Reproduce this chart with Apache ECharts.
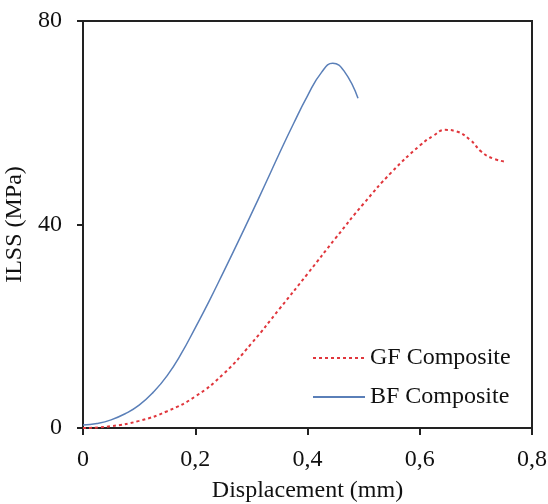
<!DOCTYPE html>
<html>
<head>
<meta charset="utf-8">
<style>html,body{margin:0;padding:0;background:#fff}#c{width:548px;height:504px}</style>
<script src="https://cdn.jsdelivr.net/npm/echarts@6/dist/echarts.min.js"></script>
</head>
<body>
<div id="c"></div>
<script>
var gfX = [0, 0.05, 0.1, 0.15, 0.2, 0.25, 0.3, 0.35, 0.4, 0.45, 0.5, 0.55, 0.6, 0.625, 0.645, 0.665, 0.69, 0.71, 0.73, 0.755];
var gfY = [0, 0.35, 1.4, 3.3, 6.2, 10.6, 16.6, 23.4, 30.3, 37.3, 44.1, 50.3, 55.5, 57.5, 58.6, 58.3, 56.6, 54.3, 53.0, 52.3];
var bfX = [0, 0.025, 0.05, 0.075, 0.1, 0.125, 0.15, 0.175, 0.2, 0.225, 0.25, 0.275, 0.3, 0.325, 0.35, 0.375, 0.4, 0.425, 0.445, 0.465, 0.49];
var bfY = [0.6, 0.9, 1.6, 2.8, 4.5, 7.0, 10.3, 14.6, 19.7, 25.0, 30.6, 36.3, 42.1, 48.0, 54.0, 59.8, 65.3, 69.9, 71.7, 70.2, 64.8];
var seriesNames = ['GF Composite', 'BF Composite'];

function pairs(xs, ys) { return xs.map(function (x, i) { return [x, ys[i]]; }); }

var font = '"Liberation Serif", "Times New Roman", serif';
var chart = echarts.init(document.getElementById('c'));
chart.setOption({
  animation: false,
  grid: { left: 83, right: 16, top: 21, bottom: 76, show: true, borderColor: '#222', borderWidth: 2,
    outerBoundsMode: 'none', containLabel: false },
  legend: {
    orient: 'vertical', left: 307, top: 341, itemWidth: 52, itemHeight: 14, itemGap: 15,
    itemStyle: { opacity: 0 },
    textStyle: { fontFamily: font, fontSize: 24, color: '#111' },
    data: seriesNames
  },
  xAxis: {
    type: 'value', min: 0, max: 0.8, interval: 0.2,
    name: 'Displacement (mm)', nameLocation: 'middle', nameGap: 51,
    nameTextStyle: { fontFamily: font, fontSize: 24, color: '#111' },
    axisLine: { lineStyle: { color: '#222', width: 2 } },
    axisTick: { length: 7, lineStyle: { color: '#222', width: 2 } },
    axisLabel: { margin: 20, fontFamily: font, fontSize: 24, color: '#111',
      formatter: function (v) { return String(v).replace('.', ','); } },
    splitLine: { show: false }
  },
  yAxis: {
    type: 'value', min: 0, max: 80, interval: 40,
    name: 'ILSS (MPa)', nameLocation: 'middle', nameGap: 50,
    nameTextStyle: { fontFamily: font, fontSize: 24, color: '#111' },
    axisLine: { show: true, lineStyle: { color: '#222', width: 2 } },
    axisTick: { show: true, length: 6, lineStyle: { color: '#222', width: 2 } },
    axisLabel: { margin: 21, fontFamily: font, fontSize: 24, color: '#111' },
    splitLine: { show: false }
  },
  series: [
    { name: seriesNames[0], type: 'line', data: pairs(gfX, gfY), smooth: 0.5, symbol: 'none',
      lineStyle: { color: '#e0363c', width: 2, type: [3, 3] }, itemStyle: { color: '#e0363c' } },
    { name: seriesNames[1], type: 'line', data: pairs(bfX, bfY), smooth: 0.5, symbol: 'none',
      lineStyle: { color: '#5a7fb8', width: 1.5 }, itemStyle: { color: '#5a7fb8' } }
  ]
});
</script>
</body>
</html>
